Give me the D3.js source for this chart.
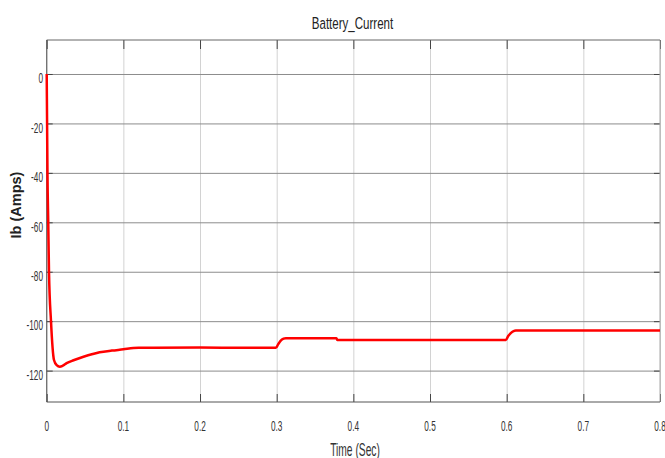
<!DOCTYPE html>
<meta charset="utf-8">
<script src="https://d3js.org/d3.v7.min.js"></script>
<style>
body { margin: 0; background: white; }
svg { display: block; font-family: "Liberation Sans", Arial, sans-serif; }
.grid-h line { stroke: #8c8c8c; stroke-width: 1px; }
.grid-v line { stroke: #d2d2d2; stroke-width: 1px; }
.grid-h path, .grid-v path { display: none; }
.ticks line { stroke: #444; }
.ticks path { display: none; }
.label { fill: #333; font-size: 15px; }
.trace { fill: none; stroke: #ff0000; stroke-width: 2.5px; }
</style>
<body>
<svg id="svg" width="665" height="458"></svg>
<script>
// battery current
var time    = [0, 0.0005, 0.001, 0.002, 0.003, 0.0056, 0.0095, 0.013, 0.017, 0.021, 0.026, 0.035, 0.048,
               0.06, 0.069, 0.085, 0.1, 0.113, 0.12, 0.2, 0.299, 0.302, 0.305, 0.309, 0.312, 0.378, 0.379,
               0.599, 0.602, 0.605, 0.609, 0.612, 0.8];
var current = [0, -20, -40, -60, -80, -100, -115.7, -117.8, -118.4, -118, -117, -115.8, -114.4,
               -113.3, -112.6, -111.9, -111.4, -110.9, -110.8, -110.7, -110.8, -109.3, -108, -107.1, -106.9, -106.9, -107.6,
               -107.6, -106, -104.9, -104.0, -103.8, -103.8];
var xTicks = [0, 0.1, 0.2, 0.3, 0.4, 0.5, 0.6, 0.7, 0.8];
var yTicks = [0, -20, -40, -60, -80, -100, -120];

var data = time.map(function(t, i) { return {x: t, y: current[i]}; });

var svg = d3.select("#svg");
var plotLeft = 46.7, plotRight = 660, plotTop = 40, plotBottom = 402;
var width = plotRight - plotLeft, height = plotBottom - plotTop;

var xScale = d3.scaleLinear().domain([0, 0.8]).range([0, width]);
var yScale = d3.scaleLinear().domain([-132.7, 13.75]).range([height, 0]);

var g = svg.append("g").attr("transform", "translate(" + plotLeft + "," + plotTop + ")");

// grid
g.append("g").attr("class", "grid-v")
    .call(d3.axisBottom(xScale).tickValues(xTicks).tickSize(height).tickFormat(""));
g.append("g").attr("class", "grid-h")
    .call(d3.axisRight(yScale).tickValues(yTicks).tickSize(width).tickFormat(""));

// inward tick marks on all four sides
g.append("g").attr("class", "ticks").attr("transform", "translate(0," + height + ")")
    .call(d3.axisBottom(xScale).tickValues(xTicks).tickSize(-8).tickFormat(""));
g.append("g").attr("class", "ticks")
    .call(d3.axisTop(xScale).tickValues(xTicks).tickSize(-9).tickFormat(""));
g.append("g").attr("class", "ticks")
    .call(d3.axisLeft(yScale).tickValues(yTicks).tickSize(-6).tickFormat(""));
g.append("g").attr("class", "ticks").attr("transform", "translate(" + width + ",0)")
    .call(d3.axisRight(yScale).tickValues(yTicks).tickSize(-6).tickFormat(""));

// frame
g.append("line").attr("x1", width).attr("x2", width).attr("y1", 0).attr("y2", height)
    .attr("stroke", "#a8a8a8");
g.append("line").attr("x1", 0).attr("x2", width).attr("y1", 0).attr("y2", 0)
    .attr("stroke", "#666");
g.append("line").attr("x1", 0).attr("x2", width).attr("y1", height).attr("y2", height)
    .attr("stroke", "#555");
g.append("line").attr("x1", 0).attr("x2", 0).attr("y1", 0).attr("y2", height)
    .attr("stroke", "#555");

// tick labels (narrow look of the original)
g.selectAll(".xlab").data(xTicks).enter().append("text")
    .attr("class", "label")
    .attr("text-anchor", "middle")
    .attr("transform", function(d) { return "translate(" + xScale(d) + "," + (height + 28.7) + ") scale(0.55,1)"; })
    .text(function(d) { return d; });

g.selectAll(".ylab").data(yTicks).enter().append("text")
    .attr("class", "label")
    .attr("text-anchor", "end")
    .attr("transform", function(d) { return "translate(-3.7," + (yScale(d) + 9.3) + ") scale(0.55,1)"; })
    .text(function(d) { return d; });

// trace
var line = d3.line()
    .curve(d3.curveMonotoneX)
    .x(function(d) { return xScale(d.x); })
    .y(function(d) { return yScale(d.y); });

g.append("path").datum(data).attr("class", "trace").attr("d", line);

// titles
svg.append("text")
    .attr("text-anchor", "middle")
    .attr("transform", "translate(352.5,29) scale(0.68,1)")
    .style("font-size", "17px").style("fill", "#222")
    .text("Battery_Current");

svg.append("text")
    .attr("text-anchor", "middle")
    .attr("transform", "translate(355,456) scale(0.57,1)")
    .style("font-size", "18px").style("fill", "#333")
    .text("Time (Sec)");

svg.append("text")
    .attr("text-anchor", "middle")
    .attr("transform", "translate(21,205) rotate(-90)")
    .style("font-size", "14.5px").style("font-weight", "bold").style("fill", "#222")
    .text("Ib (Amps)");
</script>
</body>
